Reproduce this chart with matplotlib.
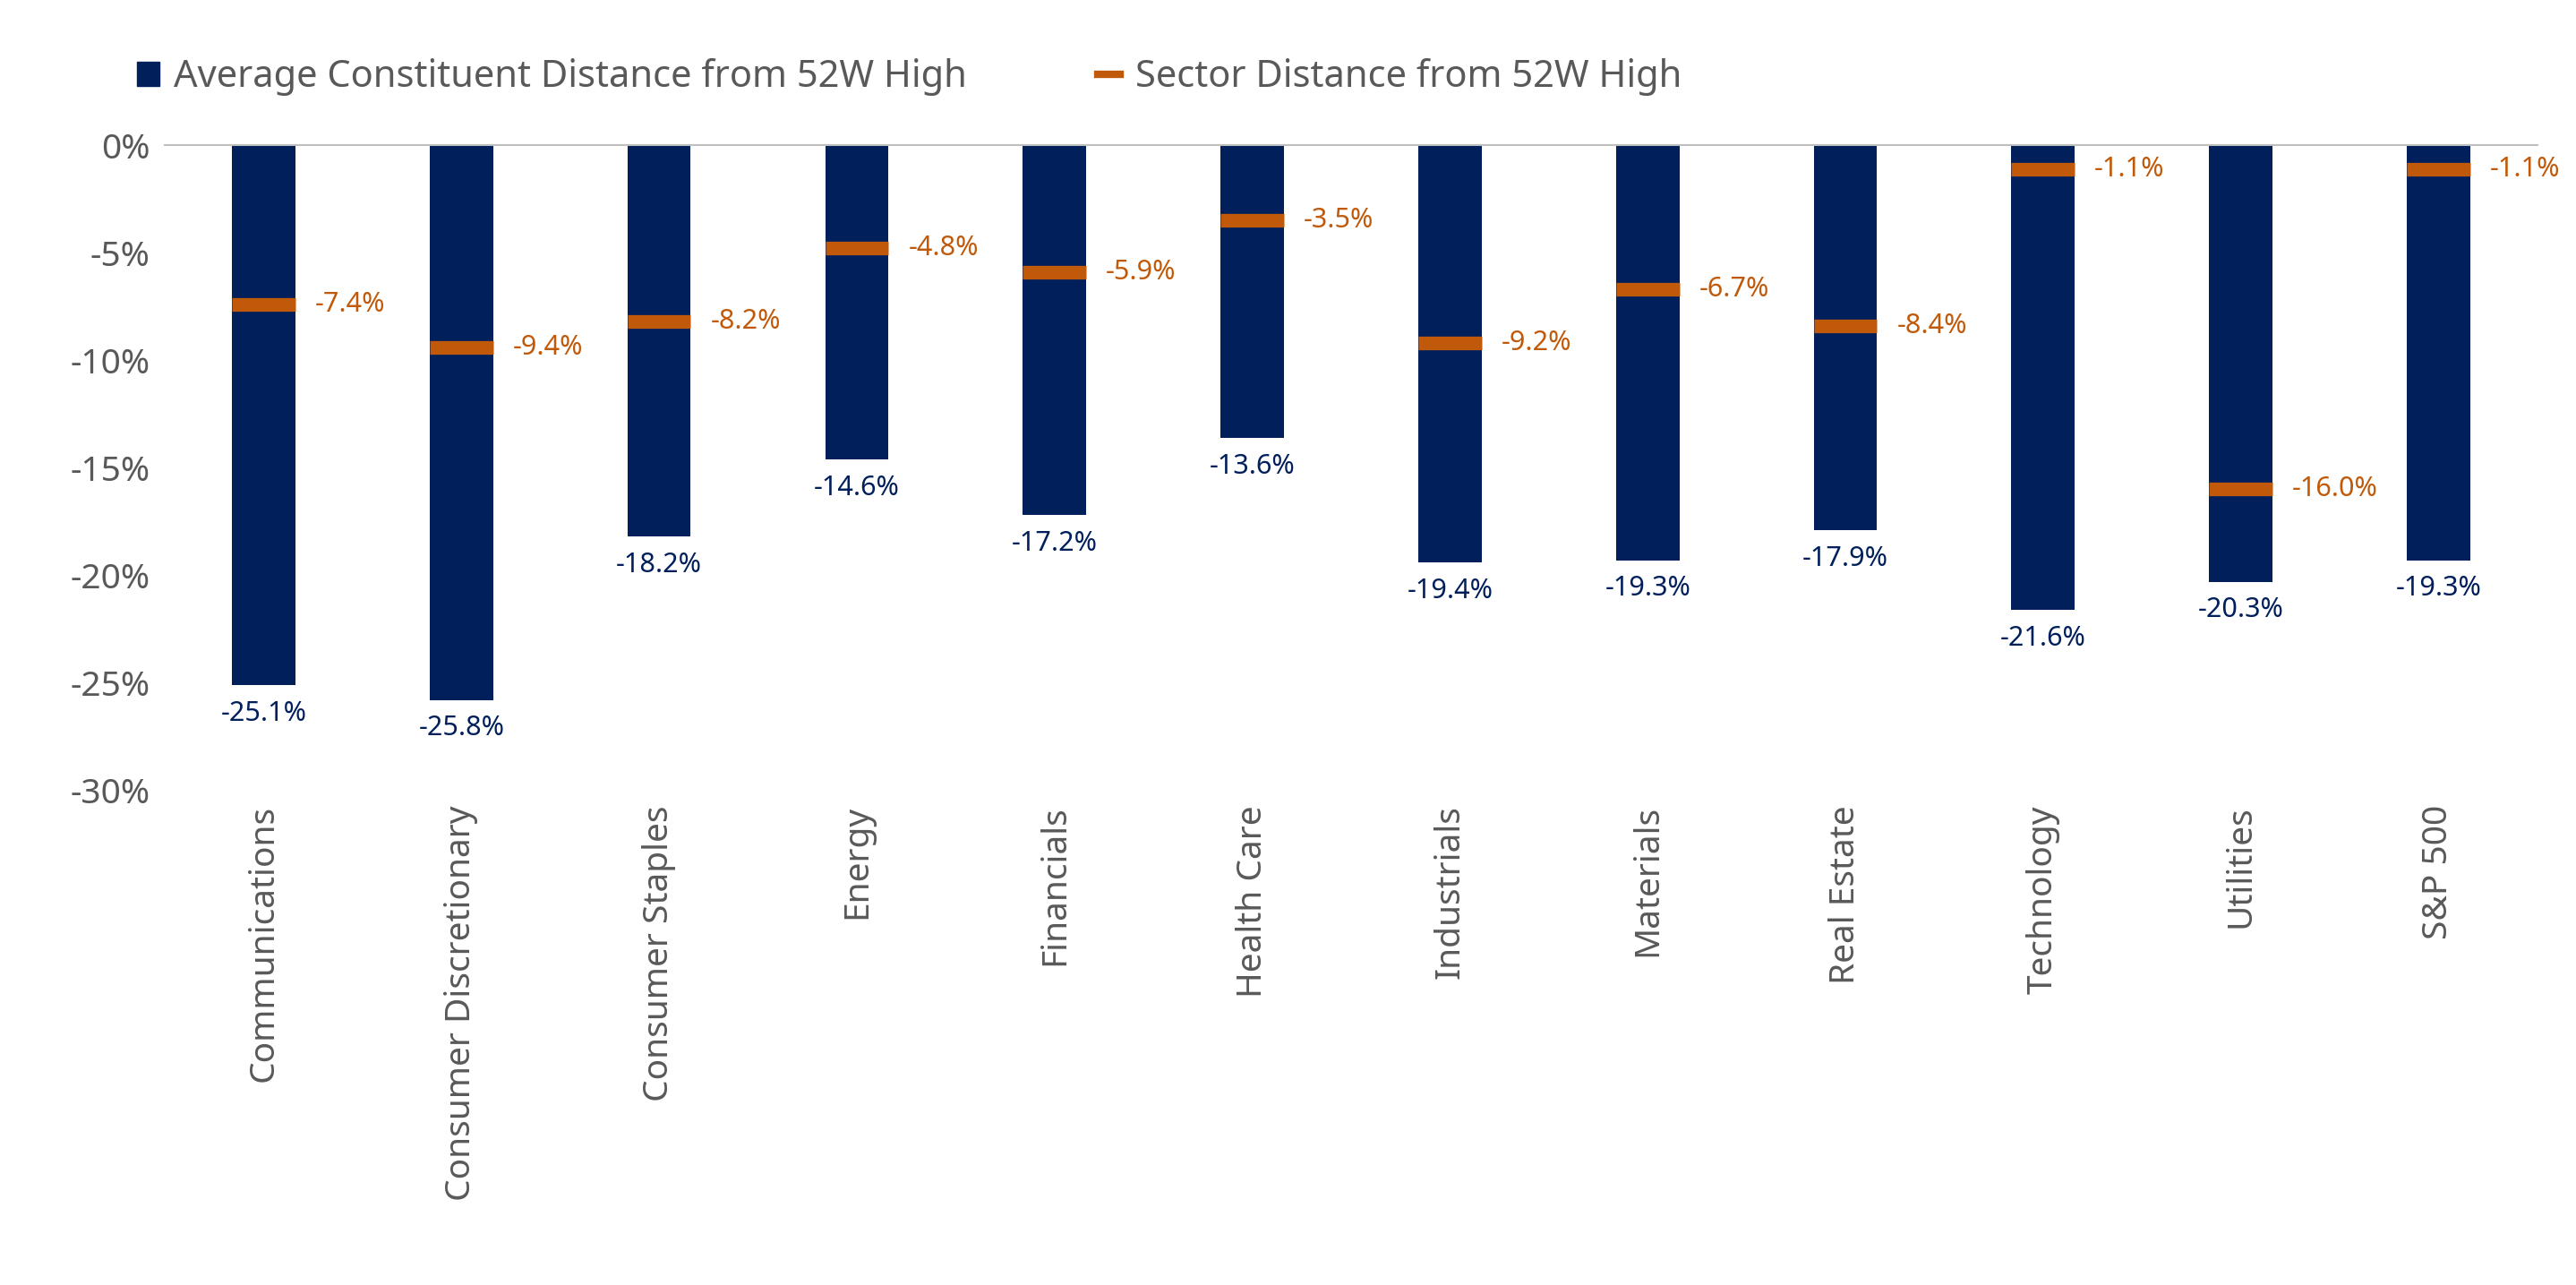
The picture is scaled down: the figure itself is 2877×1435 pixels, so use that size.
import numpy as np
import matplotlib.pyplot as plt
from matplotlib.lines import Line2D
from matplotlib.patches import Patch

plt.rcParams['font.family'] = ['Noto Sans', 'DejaVu Sans']

sectors = ['Communications', 'Consumer Discretionary', 'Consumer Staples', 'Energy',
           'Financials', 'Health Care', 'Industrials', 'Materials', 'Real Estate',
           'Technology', 'Utilities', 'S&P 500']
avg_constituent = [-25.1, -25.8, -18.2, -14.6, -17.2, -13.6, -19.4, -19.3, -17.9, -21.6, -20.3, -19.3]
sector_dist = [-7.4, -9.4, -8.2, -4.8, -5.9, -3.5, -9.2, -6.7, -8.4, -1.1, -16.0, -1.1]

navy = '#001f5b'
orange = '#c05a0a'
grey = '#595959'

fig = plt.figure(figsize=(28.77, 14.35), dpi=100)
ax = fig.add_axes([0.064, 0.385, 0.921, 0.502])

x = np.arange(len(sectors))
w = 0.32
ax.bar(x, avg_constituent, width=w, color=navy, zorder=2)
ax.hlines(sector_dist, x - w / 2, x + w / 2, color=orange, linewidth=11, zorder=3)

for xi, a, s in zip(x, avg_constituent, sector_dist):
    ax.text(xi, a - 0.7, f'{a:.1f}%', ha='center', va='top', fontsize=22, color=navy)
    ax.text(xi + w / 2 + 0.1, s, f'{s:.1f}%', ha='left', va='center', fontsize=22, color=orange)

ax.set_ylim(-30, 0)
ax.set_xlim(-0.5, len(sectors) - 0.5)
ax.set_yticks(np.arange(-30, 1, 5))
ax.set_yticklabels([f'{v}%' for v in range(-30, 1, 5)])
ax.set_xticks(x)
ax.set_xticklabels(sectors, rotation=90)
ax.tick_params(axis='both', length=0, labelsize=28, labelcolor=grey, pad=12)
for sp in ['left', 'right', 'bottom']:
    ax.spines[sp].set_visible(False)
ax.spines['top'].set_color('#bfbfbf')
ax.spines['top'].set_linewidth(1.5)

handles = [Patch(color=navy), Line2D([], [], color=orange, linewidth=6)]
fig.legend(handles, ['Average Constituent Distance from 52W High', 'Sector Distance from 52W High'],
           loc='center left', bbox_to_anchor=(0.04, 0.94), ncol=2, frameon=False,
           fontsize=30, labelcolor=grey, handlelength=0.6, handleheight=0.6,
           handletextpad=0.4, columnspacing=3.5)

fig.savefig('out.png', dpi=100)
